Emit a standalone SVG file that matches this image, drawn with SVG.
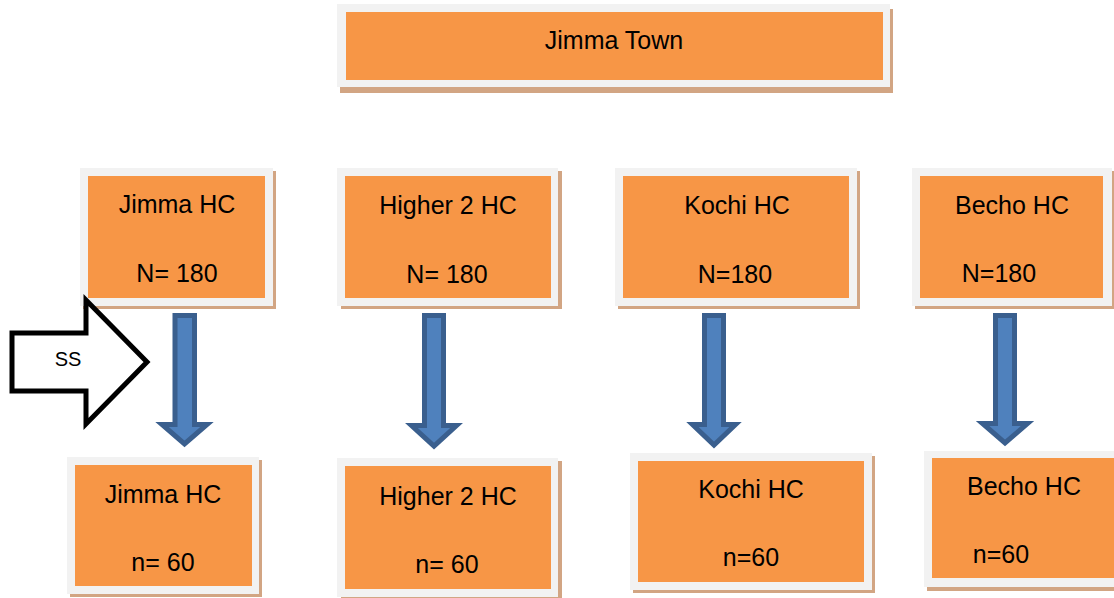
<svg xmlns="http://www.w3.org/2000/svg" width="1114" height="598" viewBox="0 0 1114 598">
<style>
.sh{fill:#d2a583}
.fr{fill:#f2f2f2}
.or{fill:#f79646}
.t{font-family:"Liberation Sans",Arial,sans-serif;font-size:25px;fill:#000;text-anchor:middle}
.ar{fill:#4f81bd;stroke:#3a5f8e;stroke-width:5;stroke-linejoin:miter}
</style>
<rect width="1114" height="598" fill="#fff"/>
<g id="top">
<rect class="sh" x="340" y="9" width="553" height="84"/>
<rect class="fr" x="337" y="4" width="553" height="83"/>
<rect class="or" x="346" y="12" width="537" height="68"/>
<text class="t" x="614" y="49">Jimma Town</text>
</g>
<g id="jimma180">
<rect class="sh" x="83" y="171" width="193" height="138"/>
<rect class="fr" x="80" y="168" width="193" height="138"/>
<rect class="or" x="88" y="176" width="177" height="122"/>
<text class="t" x="177" y="213">Jimma HC</text>
<text class="t" x="177" y="282">N= 180</text>
</g>
<g id="higher180">
<rect class="sh" x="341" y="171" width="221" height="138"/>
<rect class="fr" x="337" y="168" width="221" height="138"/>
<rect class="or" x="345" y="176" width="206" height="122"/>
<text class="t" x="448" y="214">Higher 2 HC</text>
<text class="t" x="447" y="283">N= 180</text>
</g>
<g id="kochi180">
<rect class="sh" x="618" y="171" width="242" height="138"/>
<rect class="fr" x="615" y="168" width="242" height="138"/>
<rect class="or" x="623" y="176" width="226" height="122"/>
<text class="t" x="737" y="214">Kochi HC</text>
<text class="t" x="735" y="283">N=180</text>
</g>
<g id="becho180">
<rect class="sh" x="915" y="171" width="205" height="138"/>
<rect class="fr" x="912" y="168" width="200" height="138"/>
<rect class="or" x="920" y="176" width="183" height="122"/>
<text class="t" x="1012" y="214">Becho HC</text>
<text class="t" x="999" y="282">N=180</text>
</g>
<g id="jimma60">
<rect class="sh" x="70" y="460" width="192" height="137"/>
<rect class="fr" x="67" y="457" width="192" height="137"/>
<rect class="or" x="75" y="465" width="177" height="121"/>
<text class="t" x="163" y="503">Jimma HC</text>
<text class="t" x="163" y="571">n= 60</text>
</g>
<g id="higher60">
<rect class="sh" x="341" y="461" width="221" height="139"/>
<rect class="fr" x="337" y="458" width="221" height="139"/>
<rect class="or" x="345" y="466" width="206" height="123"/>
<text class="t" x="448" y="505">Higher 2 HC</text>
<text class="t" x="447" y="573">n= 60</text>
</g>
<g id="kochi60">
<rect class="sh" x="633" y="456" width="242" height="137"/>
<rect class="fr" x="630" y="453" width="242" height="137"/>
<rect class="or" x="638" y="461" width="226" height="121"/>
<text class="t" x="751" y="498">Kochi HC</text>
<text class="t" x="751" y="566">n=60</text>
</g>
<g id="becho60">
<rect class="sh" x="927" y="454" width="200" height="137"/>
<rect class="fr" x="924" y="451" width="200" height="136"/>
<rect class="or" x="932" y="458" width="190" height="120"/>
<text class="t" x="1024" y="495">Becho HC</text>
<text class="t" x="1001" y="563">n=60</text>
</g>
<g id="connectors">
<polygon class="ar" points="175,315.5 194.5,315.5 194.5,424.5 207,424.5 184.5,444 162,424.5 175,424.5"/>
<polygon class="ar" points="424.5,315.5 443.5,315.5 443.5,425.5 456.5,425.5 434,446 411.5,425.5 424.5,425.5"/>
<polygon class="ar" points="704.5,315.5 723.5,315.5 723.5,424.5 735.5,424.5 714,445 692.5,424.5 704.5,424.5"/>
<polygon class="ar" points="995.5,315.5 1014.5,315.5 1014.5,423.5 1027.5,423.5 1005,443 982.5,423.5 995.5,423.5"/>
</g>
<g id="ss">
<polygon points="12,333 86,333 86,300 147,362 86,424 86,391 12,391" fill="#fff" stroke="#000" stroke-width="5" stroke-linejoin="miter"/>
<text x="68" y="366" style="font-family:'Liberation Sans',Arial,sans-serif;font-size:20px;text-anchor:middle">SS</text>
</g>
</svg>
